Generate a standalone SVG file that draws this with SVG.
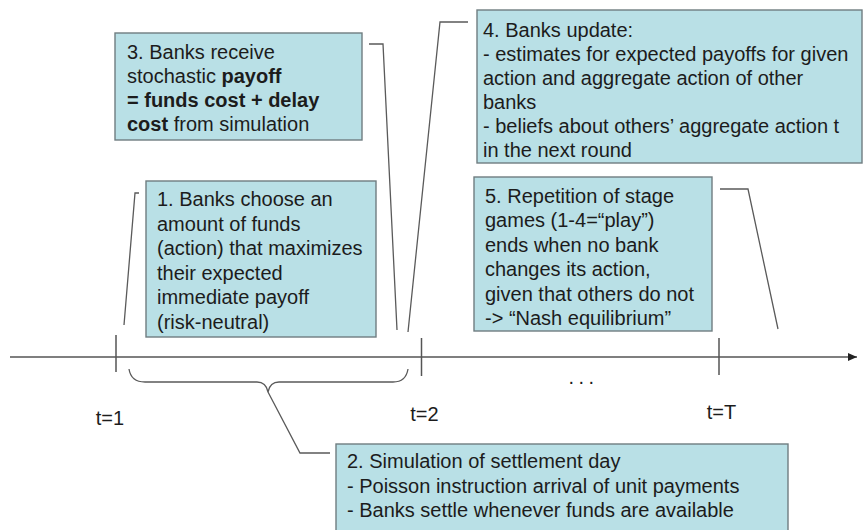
<svg xmlns="http://www.w3.org/2000/svg" width="864" height="530" viewBox="0 0 864 530">
<defs>
<style>
.box{fill:#b9e0e6;stroke:#6f7d80;stroke-width:1.4}
.t{font-family:"Liberation Sans",Arial,sans-serif;font-size:20px;fill:#1c1c1c}
.b{font-weight:bold}
.ln{fill:none;stroke:#5a5a5a;stroke-width:1.3}
.ax{fill:none;stroke:#555;stroke-width:1.5}
</style>
<marker id="arr" markerWidth="10" markerHeight="8" refX="9" refY="4" orient="auto" markerUnits="userSpaceOnUse">
<path d="M0,0 L9,4 L0,8 Z" fill="#222"/>
</marker>
</defs>
<rect width="864" height="530" fill="#fff"/>
<g id="connectors">
<path class="ln" d="M369,44 L383,44 L397,330"/>
<path class="ln" d="M468,22 L440,22 L408,332"/>
<path class="ln" d="M139,193 L135,193 L124,325"/>
<path class="ln" d="M720,189 L748,189 L778,329"/>
<path class="ln" d="M129,369 Q131,382 145,382 L257,382 Q266,382 268,392 Q270,382 279,382 L393,382 Q406,382 408,369"/>
<path class="ln" d="M268,392 L300,453 L330,453"/>
</g>
<g id="timeline">
<line class="ax" x1="10" y1="357" x2="857" y2="357" marker-end="url(#arr)"/>
<line class="ax" x1="116" y1="335" x2="116" y2="372"/>
<line class="ax" x1="421.5" y1="338" x2="421.5" y2="376"/>
<line class="ax" x1="719" y1="338" x2="719" y2="375"/>
<text class="t" x="110" y="425" text-anchor="middle">t=1</text>
<text class="t" x="424.5" y="421" text-anchor="middle">t=2</text>
<text class="t" x="721.5" y="419" text-anchor="middle">t=T</text>
<text class="t" x="568.5" y="384" letter-spacing="4.4">...</text>
</g>
<g id="node3">
<rect class="box" x="115" y="33" width="247" height="107"/>
<text class="t" x="127" y="59">3. Banks receive</text>
<text class="t" x="127" y="83">stochastic <tspan class="b">payoff</tspan></text>
<text class="t b" x="127" y="107">= funds cost + delay</text>
<text class="t" x="127" y="131"><tspan class="b">cost</tspan> from simulation</text>
</g>
<g id="node4">
<rect class="box" x="477" y="10" width="385" height="153"/>
<text class="t" x="483" y="37">4. Banks update:</text>
<text class="t" x="483" y="61">- estimates for expected payoffs for given</text>
<text class="t" x="483" y="85">action and aggregate action of other</text>
<text class="t" x="483" y="109">banks</text>
<text class="t" x="483" y="133">- beliefs about others’ aggregate action t</text>
<text class="t" x="483" y="157">in the next round</text>
</g>
<g id="node1">
<rect class="box" x="146" y="181" width="230" height="156"/>
<text class="t" x="157" y="206">1. Banks choose an</text>
<text class="t" x="157" y="230.5">amount of funds</text>
<text class="t" x="157" y="255">(action) that maximizes</text>
<text class="t" x="157" y="279.5">their expected</text>
<text class="t" x="157" y="304">immediate payoff</text>
<text class="t" x="157" y="328.5">(risk-neutral)</text>
</g>
<g id="node5">
<rect class="box" x="474" y="177" width="238" height="154"/>
<text class="t" x="485" y="203">5. Repetition of stage</text>
<text class="t" x="485" y="227">games (1-4=“play”)</text>
<text class="t" x="485" y="252">ends when no bank</text>
<text class="t" x="485" y="276">changes its action,</text>
<text class="t" x="485" y="301">given that others do not</text>
<text class="t" x="485" y="325">-&gt; “Nash equilibrium”</text>
</g>
<g id="node2">
<rect class="box" x="336" y="444" width="452" height="100"/>
<text class="t" x="347" y="468">2. Simulation of settlement day</text>
<text class="t" x="347" y="492.5">- Poisson instruction arrival of unit payments</text>
<text class="t" x="347" y="517">- Banks settle whenever funds are available</text>
</g>
</svg>
